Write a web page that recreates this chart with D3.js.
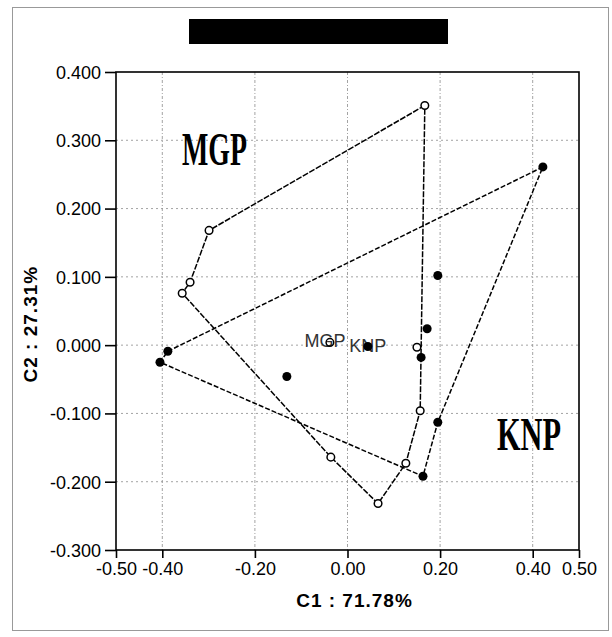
<!DOCTYPE html>
<html>
<head>
<meta charset="utf-8">
<script src="https://cdn.jsdelivr.net/npm/d3@7"></script>
<style>
  body { margin: 0; background: #fff; }
  text { font-family: Arial, "Liberation Sans", sans-serif; }
</style>
</head>
<body>
<div id="scatterplot"></div>
<script>
// group data: [C1, C2]
var mgpPoints = [
    [0.167, 0.351], [-0.299, 0.168], [-0.340, 0.092], [-0.357, 0.076],
    [-0.036, -0.164], [0.066, -0.232], [0.126, -0.173], [0.157, -0.096],
    [0.150, -0.003]
]
var knpPoints = [
    [0.422, 0.261], [-0.388, -0.009], [-0.405, -0.025], [-0.131, -0.046],
    [0.172, 0.024], [0.159, -0.018], [0.195, 0.102], [0.195, -0.113],
    [0.163, -0.192]
]
// hull vertices as indexes into the point arrays
var mgpHull = [0, 1, 2, 3, 4, 5, 6, 7]
var knpHull = [0, 1, 2, 8, 7]
var centroids = [
    { label: 'MGP', c1: -0.038, c2: 0.004, filled: false },
    { label: 'KNP', c1: 0.044, c2: -0.002, filled: true }
]
var xTicks = [-0.5, -0.4, -0.2, 0, 0.2, 0.4, 0.5]
var xGrid = [-0.4, -0.2, 0, 0.2, 0.4]
var yTicks = [0.4, 0.3, 0.2, 0.1, 0, -0.1, -0.2, -0.3]
var yGrid = [0.3, 0.2, 0.1, 0, -0.1, -0.2]
var xTitle = 'C1 : 71.78%'
var yTitle = 'C2 : 27.31%'

var W = 612, H = 637
var margin = { top: 72, right: 33, bottom: 87, left: 116 },
    width = W - margin.left - margin.right,
    height = H - margin.top - margin.bottom;

var root = d3.select("#scatterplot")
    .append("svg")
    .attr("width", W)
    .attr("height", H)

// outer frame of the figure
root.append("rect")
    .attr("x", 12.5).attr("y", 7.5)
    .attr("width", 596).attr("height", 623)
    .style("fill", "none")
    .style("stroke", "#999")
    .style("stroke-width", 1)

// redacted title bar
root.append("rect")
    .attr("x", 189).attr("y", 19)
    .attr("width", 259).attr("height", 25)
    .style("fill", "#000")

var svg = root.append("g")
    .attr("transform", "translate(" + margin.left + "," + margin.top + ")");

var x = d3.scaleLinear().domain([-0.5, 0.5]).range([0, width]);
var y = d3.scaleLinear().domain([-0.3, 0.4]).range([height, 0]);

// plain hyphen instead of the unicode minus d3 puts in
const fmt = p => (d => d3.format(p)(d).replace('\u2212', '-'))

// grids
svg.append('g')
    .selectAll('line.vg')
    .data(xGrid).enter()
    .append('line')
    .attr('x1', d => x(d)).attr('x2', d => x(d))
    .attr('y1', 0).attr('y2', height)
    .style('stroke', '#999').style('stroke-width', 0.9)
    .style('stroke-dasharray', '3,2,1,2')

svg.append('g')
    .selectAll('line.hg')
    .data(yGrid).enter()
    .append('line')
    .attr('x1', 0).attr('x2', width)
    .attr('y1', d => y(d)).attr('y2', d => y(d))
    .style('stroke', '#999').style('stroke-width', 0.9)
    .style('stroke-dasharray', '2,3')

// axes
var yAxis = svg.append("g")
    .call(d3.axisLeft(y).tickValues(yTicks).tickFormat(fmt(".3f")).tickSize(11).tickSizeOuter(0))
var xAxis = svg.append("g")
    .attr("transform", "translate(0," + height + ")")
    .call(d3.axisBottom(x).tickValues(xTicks).tickFormat(fmt(".2f")).tickSize(8).tickSizeOuter(0))

yAxis.select('.domain').remove()
xAxis.select('.domain').remove()
yAxis.selectAll('line').style('stroke', '#000').style('stroke-width', 1.6)
xAxis.selectAll('line').style('stroke', '#000').style('stroke-width', 1.6)
yAxis.selectAll('text')
    .attr('x', -15).attr('dy', '0.35em')
    .style('font-size', '18px').style('fill', '#000')
xAxis.selectAll('text')
    .attr('y', 11).attr('dy', '0.75em')
    .style('font-size', '18px').style('fill', '#000')

// plot frame
svg.append("rect")
    .attr("width", width).attr("height", height)
    .style("fill", "none")
    .style("stroke", "#000")
    .style("stroke-width", 1.6)

// axis titles
svg.append("text")
    .attr("text-anchor", "middle")
    .attr("x", x(0) + 7)
    .attr("y", height + 57)
    .style("font-size", "19px")
    .style("font-weight", "bold")
    .style("letter-spacing", "1px")
    .text(xTitle);

svg.append("text")
    .attr("text-anchor", "middle")
    .attr("transform", "translate(" + (37 - margin.left) + "," + (y(0) - 21) + ") rotate(-90)")
    .style("font-size", "19px")
    .style("font-weight", "bold")
    .style("letter-spacing", "1px")
    .text(yTitle);

// hull polygons
var line = d3.line().x(d => x(d[0])).y(d => y(d[1])).curve(d3.curveLinearClosed)

svg.append('path')
    .datum(mgpHull.map(i => mgpPoints[i]))
    .attr('d', line)
    .style('fill', 'none').style('stroke', '#000')
    .style('stroke-width', 1.5).style('stroke-dasharray', '6,1.5')

svg.append('path')
    .datum(knpHull.map(i => knpPoints[i]))
    .attr('d', line)
    .style('fill', 'none').style('stroke', '#000')
    .style('stroke-width', 1.5).style('stroke-dasharray', '5,2')

// points
svg.append('g')
    .selectAll('circle')
    .data(mgpPoints).enter()
    .append('circle')
    .attr('cx', d => x(d[0])).attr('cy', d => y(d[1]))
    .attr('r', 3.8)
    .style('fill', '#fff').style('stroke', '#000').style('stroke-width', 1.5)

svg.append('g')
    .selectAll('circle')
    .data(knpPoints).enter()
    .append('circle')
    .attr('cx', d => x(d[0])).attr('cy', d => y(d[1]))
    .attr('r', 4.5)
    .style('fill', '#000')

// group centroids with labels
var cg = svg.append('g')
    .selectAll('g')
    .data(centroids).enter()
    .append('g')
cg.append('text')
    .attr('x', d => x(d.c1) + (d.filled ? 0 : -5)).attr('y', d => y(d.c2) + 5)
    .attr('text-anchor', 'middle')
    .style('font-size', '18px').style('fill', '#333')
    .text(d => d.label)
cg.append('circle')
    .attr('cx', d => x(d.c1)).attr('cy', d => y(d.c2))
    .attr('r', d => d.filled ? 4.5 : 3.8)
    .style('fill', d => d.filled ? '#000' : 'none')
    .style('stroke', '#000').style('stroke-width', d => d.filled ? 0 : 1.5)

// big group names
var groupNames = [
    { label: 'MGP', px: 182, py: 165, w: 65 },
    { label: 'KNP', px: 497, py: 450, w: 64 }
]
root.selectAll('text.grp')
    .data(groupNames).enter()
    .append('text')
    .attr('class', 'grp')
    .attr('x', d => d.px).attr('y', d => d.py)
    .attr('textLength', d => d.w)
    .attr('lengthAdjust', 'spacingAndGlyphs')
    .style('font-family', '"Liberation Serif", "DejaVu Serif", serif')
    .style('font-size', '47px')
    .style('font-weight', 'bold')
    .style('fill', '#000')
    .text(d => d.label)
</script>
</body>
</html>
